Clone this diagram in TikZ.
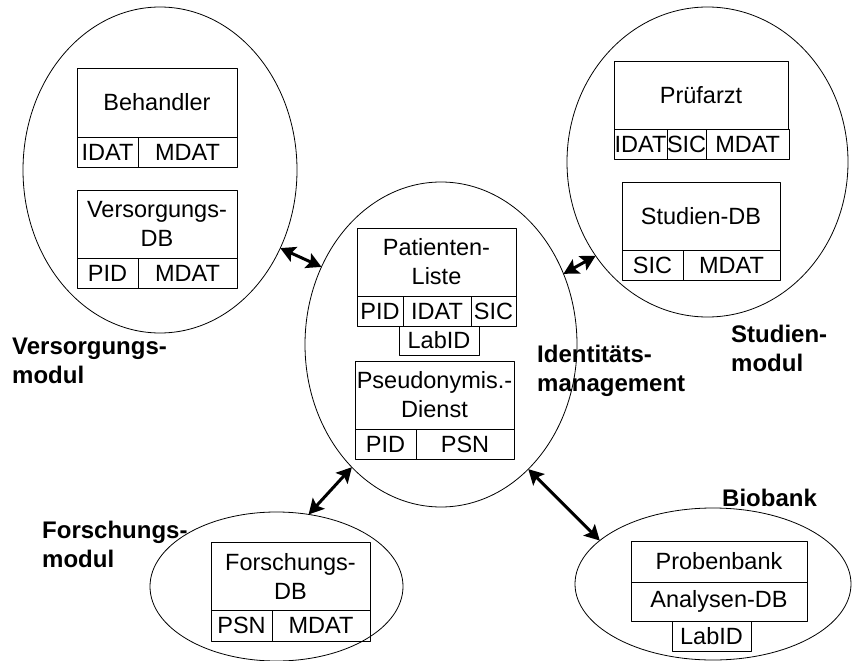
\documentclass[tikz,border=0pt]{standalone}
\usepackage{fontspec}
\setmainfont{Liberation Sans}
\usetikzlibrary{shapes.geometric,arrows.meta,positioning}
\begin{document}
\begin{tikzpicture}[x=1pt,y=-1pt,line cap=round,line join=round,font=\fontsize{23.5}{29}\selectfont,>={Stealth[length=15pt,width=16pt,inset=3pt]}]
			\tikzset{modul/.style={draw,ellipse,inner sep=0pt,outer sep=0pt,line width=0.8pt},
				titel/.style={draw,rectangle,inner sep=0pt,outer sep=0pt,line width=0.8pt,align=center,minimum height=68pt},
				feld/.style={draw,rectangle,inner sep=0pt,outer sep=0pt,line width=0.8pt,minimum height=30pt,anchor=north west},
				beschr/.style={font=\fontsize{24}{28.5}\selectfont\bfseries,align=left,inner sep=0pt,anchor=north west},
				verb/.style={<->,line width=3pt}}
			\useasboundingbox (0,0) rectangle (852,661);
			% Module
			\node[modul,minimum width=274pt,minimum height=326pt] (versorgung) at (160,170) {};
			\node[modul,minimum width=272pt,minimum height=325pt] (ident) at (441,344.5) {};
			\node[modul,minimum width=281pt,minimum height=310pt] (studien) at (707.5,162) {};
			\node[modul,minimum width=253pt,minimum height=149pt] (forschung) at (276.5,586.5) {};
			\node[modul,minimum width=276pt,minimum height=152pt] (biobank) at (713,584) {};
			% Versorgungsmodul
			\node[titel,minimum width=160pt,minimum height=69pt] (behandler) at (157,102.5) {Behandler};
			\node[feld,minimum width=61pt] (behIDAT) at (behandler.south west) {IDAT};
			\node[feld,minimum width=99pt] (behMDAT) at (behIDAT.north east) {MDAT};
			\node[titel,minimum width=160pt] (versdb) at (157,224) {Versorgungs-\\DB};
			\node[feld,minimum width=61pt] (versPID) at (versdb.south west) {PID};
			\node[feld,minimum width=99pt] (versMDAT) at (versPID.north east) {MDAT};
			% Identitaetsmanagement
			\node[titel,minimum width=159pt] (patliste) at (436.5,262) {Patienten-\\Liste};
			\node[feld,minimum width=46pt] (patPID) at (patliste.south west) {PID};
			\node[feld,minimum width=68pt] (patIDAT) at (patPID.north east) {IDAT};
			\node[feld,minimum width=45pt] (patSIC) at (patIDAT.north east) {SIC};
			\node[feld,minimum width=80pt,minimum height=29pt,anchor=north] (patLabID) at ([xshift=2pt]patIDAT.south) {LabID};
			\node[titel,minimum width=159pt] (pseudo) at (434.5,395) {Pseudonymis.-\\Dienst};
			\node[feld,minimum width=61pt] (pseudoPID) at (pseudo.south west) {PID};
			\node[feld,minimum width=98pt] (pseudoPSN) at (pseudoPID.north east) {PSN};
			% Studienmodul
			\node[titel,minimum width=174pt] (pruefarzt) at (701,95) {Prüfarzt};
			\node[feld,minimum width=53pt] (pruefIDAT) at (pruefarzt.south west) {IDAT};
			\node[feld,minimum width=38pt] (pruefSIC) at (pruefIDAT.north east) {SIC};
			\node[feld,minimum width=83pt] (pruefMDAT) at (pruefSIC.north east) {MDAT};
			\node[titel,minimum width=158pt] (studdb) at (701,216) {Studien-DB};
			\node[feld,minimum width=61pt] (studSIC) at (studdb.south west) {SIC};
			\node[feld,minimum width=97pt] (studMDAT) at (studSIC.north east) {MDAT};
			% Forschungsmodul
			\node[titel,minimum width=159pt] (forschdb) at (290.5,576) {Forschungs-\\DB};
			\node[feld,minimum width=61pt,minimum height=31pt] (forschPSN) at (forschdb.south west) {PSN};
			\node[feld,minimum width=98pt,minimum height=31pt] (forschMDAT) at (forschPSN.north east) {MDAT};
			% Biobank
			\node[titel,minimum width=176pt,minimum height=41pt] (proben) at (719,561.5) {Probenbank};
			\node[feld,minimum width=176pt,minimum height=39pt] (analysen) at (proben.south west) {Analysen-DB};
			\node[feld,minimum width=79pt,anchor=north] (bioLabID) at ([xshift=-7.5pt]analysen.south) {LabID};
			% Beschriftungen
			\node[beschr] (lversorgung) at (12,338) {Versorgungs-\\modul};
			\node[beschr] (lident) at (537,345) {Identitäts-\\management};
			\node[beschr] (lstudien) at (731,325) {Studien-\\modul};
			\node[beschr] (lforschung) at (42,521) {Forschungs-\\modul};
			\node[beschr] (lbiobank) at (722,489) {Biobank};
			% Verbindungen
			\draw[verb] (versorgung.-33) -- (ident.147);
			\draw[verb] (ident.30) -- (studien.220);
			\draw[verb] (ident.234) -- (forschung.66);
			\draw[verb] (ident.-55) -- (biobank.159);
		\end{tikzpicture}
\end{document}
